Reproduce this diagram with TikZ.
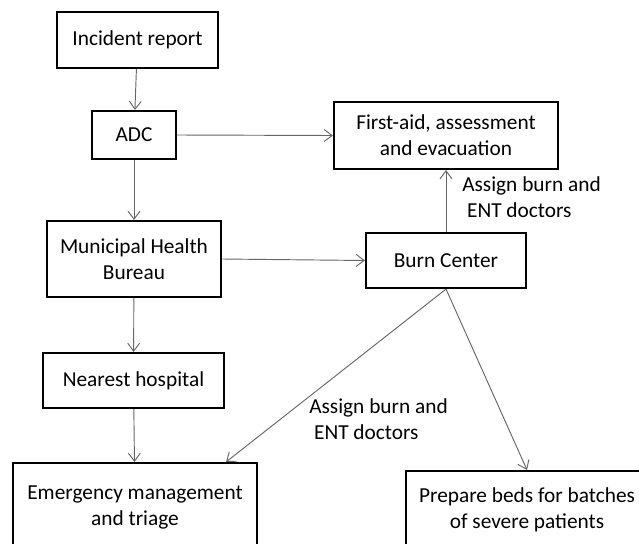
\documentclass[tikz,border=0pt]{standalone}
\usepackage{fontspec}
\setmainfont{Carlito}
\usetikzlibrary{arrows.meta}
\begin{document}
\begin{tikzpicture}[x=0.75pt,y=-0.75pt,
  box/.style={draw=black,line width=1.6pt,inner sep=0pt,align=center,
    font=\fontsize{16pt}{19.5pt}\selectfont},
  conn/.style={draw=black!60,line width=0.7pt,-{Straight Barb[length=6pt,width=9pt]}},
  lab/.style={align=left,anchor=west,inner sep=0pt,font=\fontsize{16pt}{19.5pt}\selectfont}]
\useasboundingbox (0,0) rectangle (639,543);
\clip (0,0) rectangle (639,543);
\node[box,minimum width=161*0.75pt,minimum height=56*0.75pt] (inc) at (137.5,40) {Incident report};
\node[box,minimum width=84*0.75pt,minimum height=48*0.75pt] (adc) at (134,135) {ADC};
\node[box,minimum width=174*0.75pt,minimum height=76*0.75pt] (mhb) at (134,259) {Municipal Health\\Bureau};
\node[box,minimum width=181*0.75pt,minimum height=55*0.75pt] (near) at (133.5,380.5) {Nearest hospital};
\node[box,minimum width=244*0.75pt,minimum height=88*0.75pt] (emg) at (135,507) {Emergency management\\and triage};
\node[box,minimum width=224*0.75pt,minimum height=67*0.75pt] (fa) at (446,135.5) {First-aid, assessment\\and evacuation};
\node[box,minimum width=160*0.75pt,minimum height=55*0.75pt] (burn) at (446,260.5) {Burn Center};
\node[box,minimum width=242*0.75pt,minimum height=78*0.75pt] (prep) at (527,510) {Prepare beds for batches\\of severe patients};
\draw[conn] (inc) -- (adc);
\draw[conn] (adc) -- (mhb);
\draw[conn] (mhb) -- (near);
\draw[conn] (near) -- (emg);
\draw[conn] (adc.east) -- (fa.west);
\draw[conn] (mhb.east) -- (burn.west);
\draw[conn] (burn.north) -- (fa.south);
\draw[conn] (burn.south) -- ([xshift=-24pt]emg.north east);
\draw[conn] (burn.south) -- (prep.north);
\node[lab] (l1) at (462,197) {Assign burn and\\\ ENT doctors};
\node[lab] (l2) at (309,419) {Assign burn and\\\ ENT doctors};
\end{tikzpicture}
\end{document}
